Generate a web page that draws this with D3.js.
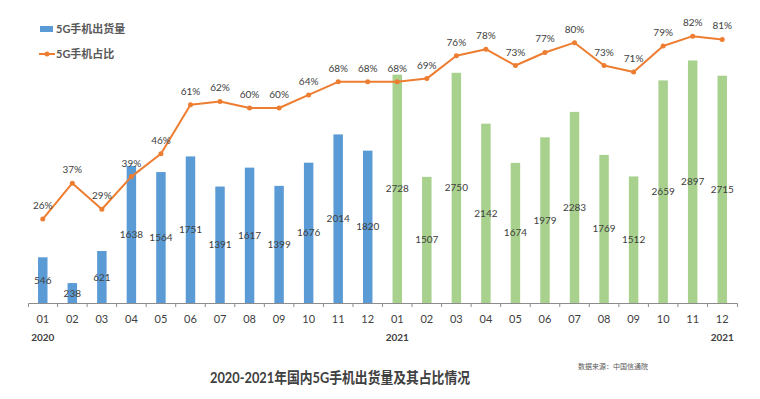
<!DOCTYPE html>
<html>
<head>
<meta charset="utf-8">
<script src="https://cdn.jsdelivr.net/npm/d3@7"></script>
<style>
  body { margin: 0; background: #fff; }
  svg { display: block; }
</style>
</head>
<body>
<script>
// Data
const months = ['01', '02', '03', '04', '05', '06', '07', '08', '09', '10', '11', '12']
const shipments2020 = [546, 238, 621, 1638, 1564, 1751, 1391, 1617, 1399, 1676, 2014, 1820]
const shipments2021 = [2728, 1507, 2750, 2142, 1674, 1979, 2283, 1769, 1512, 2659, 2897, 2715]
const sharePct = [26, 37, 29, 39, 46, 61, 62, 60, 60, 64, 68, 68, 68, 69, 76, 78, 73, 77, 80, 73, 71, 79, 82, 81]
const yearLabels = [{ i: 0, text: '2020' }, { i: 12, text: '2021' }, { i: 23, text: '2021' }]
const legendNames = ['5G手机出货量', '5G手机占比']
const chartTitle = '2020-2021年国内5G手机出货量及其占比情况'
const sourceNote = '数据来源：中国信通院'

const width = 760
const height = 399
const margins = { top: 10, right: 23, bottom: 96, left: 28 }
const FONT = "Lato, 'Noto Sans CJK SC', sans-serif"
const colors = { y2020: '#5B9BD5', y2021: '#A9D18E', line: '#ED7D31', text: '#404040', axis: '#8C8C8C' }

const rows = sharePct.map((p, i) => ({
  key: i,
  month: months[i % 12],
  value: i < 12 ? shipments2020[i] : shipments2021[i - 12],
  share: p,
  color: i < 12 ? colors.y2020 : colors.y2021
}))

const svg = d3.select('body').append('svg')
  .attr('width', width)
  .attr('height', height)
  .attr('viewBox', [0, 0, width, height].join(' '))

const baseY = height - margins.bottom

const xScale = d3.scaleBand()
  .domain(rows.map(d => d.key))
  .range([margins.left, width - margins.right])
  .padding(0)

const yScale = d3.scaleLinear()
  .domain([0, 3500])
  .range([baseY, margins.top])

const pScale = d3.scaleLinear()
  .domain([0, 90])
  .range([baseY + 1, margins.top])

const barW = xScale.bandwidth() * 0.32
const cx = d => xScale(d.key) + xScale.bandwidth() / 2

// Bars
svg.append('g')
  .selectAll('rect')
  .data(rows)
  .join('rect')
  .attr('x', d => cx(d) - barW / 2)
  .attr('y', d => yScale(d.value))
  .attr('width', barW)
  .attr('height', d => baseY - yScale(d.value))
  .attr('fill', d => d.color)

// Bar value labels (centred in bar)
svg.append('g')
  .selectAll('text')
  .data(rows)
  .join('text')
  .attr('x', cx)
  .attr('y', d => (yScale(d.value) + baseY) / 2)
  .attr('dy', '0.35em')
  .attr('text-anchor', 'middle')
  .attr('font-family', FONT)
  .attr('font-size', 10)
  .attr('fill', colors.text)
  .text(d => d.value)

// X axis
const xAxis = d3.axisBottom(xScale)
  .tickSize(0)
  .tickSizeOuter(4)
  .tickPadding(12)
  .tickFormat(k => rows[k].month)

const gx = svg.append('g')
  .attr('transform', `translate(0, ${baseY})`)
  .call(xAxis)
gx.select('.domain').attr('stroke', colors.axis)
gx.selectAll('.tick text')
  .attr('font-family', FONT)
  .attr('font-size', 11)
  .attr('fill', colors.text)

// boundary ticks between categories
gx.append('g')
  .selectAll('line')
  .data(rows.slice(1))
  .join('line')
  .attr('x1', d => xScale(d.key))
  .attr('x2', d => xScale(d.key))
  .attr('y1', 0)
  .attr('y2', 4)
  .attr('stroke', colors.axis)

// year labels
svg.append('g')
  .selectAll('text')
  .data(yearLabels)
  .join('text')
  .attr('x', d => cx(rows[d.i]))
  .attr('y', baseY + 38)
  .attr('text-anchor', 'middle')
  .attr('font-family', FONT)
  .attr('font-size', 10)
  .attr('font-weight', 'bold')
  .attr('fill', colors.text)
  .text(d => d.text)

// Share line
const line = d3.line()
  .x(cx)
  .y(d => pScale(d.share))

svg.append('path')
  .datum(rows)
  .attr('d', line)
  .attr('fill', 'none')
  .attr('stroke', colors.line)
  .attr('stroke-width', 2)
  .attr('stroke-linejoin', 'round')

svg.append('g')
  .selectAll('circle')
  .data(rows)
  .join('circle')
  .attr('cx', cx)
  .attr('cy', d => pScale(d.share))
  .attr('r', 2.5)
  .attr('fill', colors.line)

svg.append('g')
  .selectAll('text')
  .data(rows)
  .join('text')
  .attr('x', cx)
  .attr('y', d => pScale(d.share) - 10)
  .attr('text-anchor', 'middle')
  .attr('font-family', FONT)
  .attr('font-size', 10)
  .attr('fill', colors.text)
  .text(d => d.share + '%')

// Legend
const legend = svg.append('g').attr('font-family', FONT).attr('font-size', 11).attr('font-weight', 'bold').attr('fill', '#595959')
legend.append('rect')
  .attr('x', 40).attr('y', 26).attr('width', 13).attr('height', 6)
  .attr('fill', colors.y2020)
legend.append('text')
  .attr('x', 56).attr('y', 29).attr('dy', '0.35em')
  .text(legendNames[0])
legend.append('line')
  .attr('x1', 39).attr('x2', 55).attr('y1', 54).attr('y2', 54)
  .attr('stroke', colors.line).attr('stroke-width', 2)
legend.append('circle')
  .attr('cx', 47).attr('cy', 54).attr('r', 2.5)
  .attr('fill', colors.line)
legend.append('text')
  .attr('x', 56).attr('y', 54).attr('dy', '0.35em')
  .text(legendNames[1])

// Title and source
svg.append('text')
  .attr('x', 340)
  .attr('y', 378)
  .attr('dy', '0.35em')
  .attr('text-anchor', 'middle')
  .attr('font-family', FONT)
  .attr('font-size', 15)
  .attr('font-weight', 'bold')
  .attr('fill', colors.text)
  .attr('textLength', 260)
  .attr('lengthAdjust', 'spacingAndGlyphs')
  .text(chartTitle)

svg.append('text')
  .attr('x', 578)
  .attr('y', 367)
  .attr('dy', '0.35em')
  .attr('font-family', FONT)
  .attr('font-size', 7)
  .attr('fill', '#595959')
  .text(sourceNote)
</script>
</body>
</html>
